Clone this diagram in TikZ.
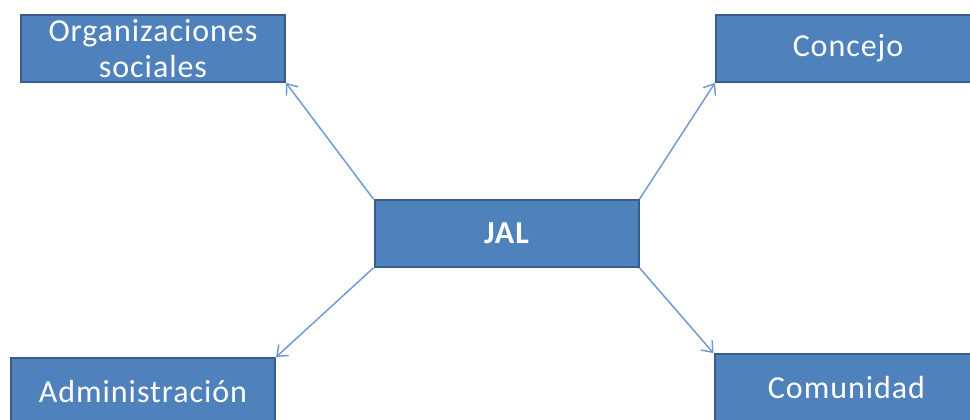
\documentclass[tikz,border=0pt]{standalone}
\usepackage{fontspec}
\setmainfont{Carlito}[LetterSpace=3]
\usetikzlibrary{arrows.meta}
\definecolor{boxfill}{HTML}{4F81BD}
\definecolor{boxline}{HTML}{385D8A}
\definecolor{arrowc}{HTML}{6F99CF}
\tikzset{
  box/.style={draw=boxline, line width=1.5pt, fill=boxfill, text=white,
    minimum width=198pt, minimum height=50pt, inner sep=0pt, align=center,
    font=\fontsize{24}{28.5}\selectfont},
  conn/.style={draw=arrowc, line width=1.1pt, -{Straight Barb[length=7pt,width=11pt,line width=1.1pt]}}
}
\begin{document}
\begin{tikzpicture}[x=0.75pt,y=-0.75pt]
\useasboundingbox (0,0) rectangle (970,420);
\clip (0,0) rectangle (970,420);
\node[box] (org) at (153,48.5) {Organizaciones\\[-1pt]sociales};
\node[box] (con) at (848,48.5) {Concejo};
\node[box, font=\fontsize{24}{28.5}\selectfont\bfseries] (jal) at (506.5,233.5) {JAL};
\node[box] (adm) at (143,391.5) {Administración};
\node[box] (com) at (846.5,387.5) {Comunidad};
\draw[conn] (jal.north west) -- (org.south east);
\draw[conn] (jal.north east) -- (con.south west);
\draw[conn] (jal.south west) -- (adm.north east);
\draw[conn] (jal.south east) -- (com.north west);
\end{tikzpicture}
\end{document}
